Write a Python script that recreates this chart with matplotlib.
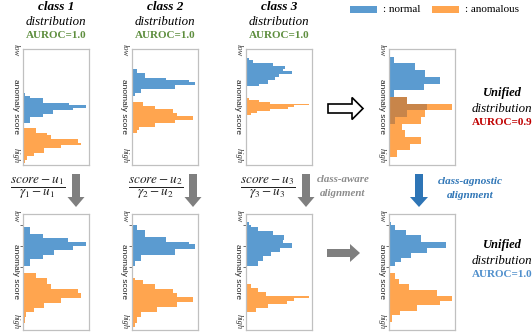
import numpy as np
import matplotlib
matplotlib.use('Agg')
import matplotlib.pyplot as plt
from matplotlib.patches import FancyArrow, Rectangle

plt.rcParams['mathtext.fontset'] = 'stix'
SERIF = 'Liberation Serif'
SANS = 'Liberation Sans'

BLUE = '#5b9bd0'
ORANGE = '#ffa54f'
BROWN = '#c8854a'
GREEN = '#5e8e3e'
RED = '#c00000'
LBLUE = '#4f8fcc'
DBLUE = '#2e75b6'
GREY = '#7f7f7f'

# ---------------- data ----------------
class_names = ['class 1', 'class 2', 'class 3']
class_auroc = ['AUROC=1.0', 'AUROC=1.0', 'AUROC=1.0']
unified_auroc_raw = 'AUROC=0.9'
unified_auroc_aligned = 'AUROC=1.0'
formulas = [r'$\dfrac{score-u_1}{\gamma_1-u_1}$',
            r'$\dfrac{score-u_2}{\gamma_2-u_2}$',
            r'$\dfrac{score-u_3}{\gamma_3-u_3}$']

# anomaly-score axis: 0 = low (top), 100 = high (bottom); counts in % of panel width
c1_raw_normal_edges = [38.0, 40.9, 42.9, 46.7, 48.7, 51.0, 53.3, 56.2, 59.1, 64.6]
c1_raw_normal_counts = [3, 11, 30, 70, 96, 75, 46, 31, 11]
c1_raw_anom_edges = [68.3, 72.6, 74.6, 78.4, 81.3, 83.6, 86.2, 89.9, 92.8, 95.7, 99.1]
c1_raw_anom_counts = [20, 36, 42, 83, 88, 57, 32, 16, 6, 3]

c2_raw_normal_edges = [17.9, 20.7, 25.1, 27.4, 28.8, 31.4, 35.2, 38.0, 40.9]
c2_raw_normal_counts = [7, 20, 52, 87, 96, 65, 13, 5]
c2_raw_anom_edges = [46.1, 49.6, 52.4, 55.3, 58.2, 61.9, 64.6, 67.7, 70.6, 73.2]
c2_raw_anom_counts = [16, 35, 62, 68, 92, 65, 35, 10, 7]

c3_raw_normal_edges = [7.8, 9.8, 12.7, 15.0, 17.3, 19.3, 22.2, 24.5, 27.4, 30.3, 32.3]
c3_raw_normal_counts = [4, 11, 41, 59, 56, 69, 50, 44, 34, 19]
c3_raw_anom_edges = [42.4, 44.1, 45.8, 47.8, 49.0, 50.4, 51.9, 53.9, 55.9, 57.6]
c3_raw_anom_counts = [5, 20, 36, 96, 73, 63, 36, 16, 8]

unified_raw_edges = [7.1, 12.9, 18.6, 24.4, 30.2, 35.9, 41.7, 47.5, 53.3, 59.0,
                     64.8, 70.6, 76.3, 82.1, 87.9, 93.6, 99.4]
unified_raw_normal_counts = [7, 40, 54, 77, 53, 8, 27, 58, 27, 9, 0, 0, 0, 0, 0, 0]
unified_raw_anom_counts = [0, 0, 0, 0, 0, 0, 27, 95, 54, 48, 19, 24, 48, 32, 12, 2]

c1_al_normal_edges = [9.2, 11.2, 17.0, 20.7, 24.2, 27.4, 31.4, 35.2, 38.9, 45.2]
c1_al_normal_counts = [2, 11, 31, 68, 96, 75, 47, 31, 11]
c1_al_anom_edges = [50.7, 55.6, 60.2, 64.6, 68.3, 72.6, 76.4, 80.7, 84.7, 89.0, 94.2]
c1_al_anom_counts = [20, 36, 42, 83, 88, 57, 32, 16, 5, 3]

c2_al_normal_edges = [9.2, 13.5, 20.2, 23.9, 25.9, 29.9, 35.7, 40.3, 44.7]
c2_al_normal_counts = [7, 20, 52, 87, 96, 65, 13, 5]
c2_al_anom_edges = [54.8, 57.3, 60.2, 64.3, 67.7, 71.8, 75.5, 79.8, 84.1, 89.0, 94.2, 97.7]
c2_al_anom_counts = [5, 16, 35, 62, 68, 92, 68, 38, 13, 7, 4]

c3_al_normal_edges = [6.9, 9.2, 11.5, 14.9, 18.3, 22.1, 24.9, 29.2, 32.7, 36.4, 40.7, 45.0]
c3_al_normal_counts = [4, 7, 18, 41, 58, 56, 70, 51, 38, 25, 18]
c3_al_anom_edges = [60.7, 64.2, 67.0, 70.5, 72.5, 75.1, 77.9, 80.8, 84.2]
c3_al_anom_counts = [7, 18, 31, 95, 73, 62, 33, 15]

unified_al_normal_edges = [6.9, 9.8, 13.5, 18.4, 24.2, 29.4, 33.7, 38.0, 41.5, 45.2]
unified_al_normal_counts = [3, 9, 25, 49, 86, 57, 34, 18, 9]
unified_al_anom_edges = [51.0, 55.9, 60.2, 65.4, 70.3, 74.9, 78.4, 83.3, 87.0, 92.8, 97.1]
unified_al_anom_counts = [9, 15, 30, 72, 95, 78, 42, 16, 5, 2]

aligned_marks = [9.5, 27.5, 45.3]

# ---------------- layout ----------------
W, H = 532, 334
fig = plt.figure(figsize=(W / 100, H / 100), dpi=100)
PW, PH = 66, 116
TOP_Y, BOT_Y = 48.5, 214
COL_X = [23, 132, 246, 389]

ov = fig.add_axes([0, 0, 1, 1])
ov.set_xlim(0, W)
ov.set_ylim(H, 0)
ov.axis('off')


def px_axes(l, t, w, h):
    return fig.add_axes([l / W, 1 - (t + h) / H, w / W, h / H])


def draw_panel(l, t, ne, nc, ae, ac, ticks=None, overlap=False):
    ax = px_axes(l, t, PW, PH)
    ne, ae = np.array(ne), np.array(ae)
    ax.barh(ne[:-1], nc, height=np.diff(ne), align='edge', color=BLUE, lw=0)
    ax.barh(ae[:-1], ac, height=np.diff(ae), align='edge', color=ORANGE, lw=0)
    if overlap:
        mn = np.minimum(np.array(nc), np.array(ac))
        ax.barh(ne[:-1], mn, height=np.diff(ne), align='edge', color=BROWN, lw=0)
    ax.set_xlim(0, 100)
    ax.set_ylim(100, 0)
    ax.set_xticks([])
    if ticks:
        ax.set_yticks(ticks)
        ax.set_yticklabels([])
        ax.tick_params(axis='y', length=2, width=0.6, color='#555555')
    else:
        ax.set_yticks([])
    for s in ax.spines.values():
        s.set_color('#c0c0c0')
        s.set_linewidth(0.9)
    # side labels
    ov.text(l - 8, t + PH / 2, 'anomaly score', rotation=-90, ha='center', va='center',
            family=SANS, fontsize=6, color='#222222')
    ov.text(l - 7.5, t - 4, 'low', rotation=-90, ha='center', va='top',
            family=SERIF, style='italic', fontsize=6, color='#333333')
    ov.text(l - 7.5, t + PH - 1, 'high', rotation=-90, ha='center', va='bottom',
            family=SERIF, style='italic', fontsize=6, color='#333333')
    return ax


top_sets = [(c1_raw_normal_edges, c1_raw_normal_counts, c1_raw_anom_edges, c1_raw_anom_counts),
            (c2_raw_normal_edges, c2_raw_normal_counts, c2_raw_anom_edges, c2_raw_anom_counts),
            (c3_raw_normal_edges, c3_raw_normal_counts, c3_raw_anom_edges, c3_raw_anom_counts)]
bot_sets = [(c1_al_normal_edges, c1_al_normal_counts, c1_al_anom_edges, c1_al_anom_counts),
            (c2_al_normal_edges, c2_al_normal_counts, c2_al_anom_edges, c2_al_anom_counts),
            (c3_al_normal_edges, c3_al_normal_counts, c3_al_anom_edges, c3_al_anom_counts)]

for i in range(3):
    draw_panel(COL_X[i], TOP_Y, *top_sets[i])
    draw_panel(COL_X[i], BOT_Y, *bot_sets[i], ticks=aligned_marks)
    cx = COL_X[i] + PW / 2
    ov.text(cx, 7, class_names[i], ha='center', va='center', family=SERIF,
            style='italic', weight='bold', fontsize=9.5)
    ov.text(cx, 22, 'distribution', ha='center', va='center', family=SERIF,
            style='italic', fontsize=9.3)
    ov.text(cx, 36, class_auroc[i], ha='center', va='center', family=SERIF,
            weight='bold', fontsize=8, color=GREEN)

draw_panel(COL_X[3], TOP_Y, unified_raw_edges, unified_raw_normal_counts,
           unified_raw_edges, unified_raw_anom_counts, overlap=True)
draw_panel(COL_X[3], BOT_Y, unified_al_normal_edges, unified_al_normal_counts,
           unified_al_anom_edges, unified_al_anom_counts, ticks=aligned_marks)

# legend
ov.add_patch(Rectangle((350, 6), 27, 7, color=BLUE, lw=0))
ov.text(383, 9.5, ': normal', ha='left', va='center', family=SERIF, fontsize=8)
ov.add_patch(Rectangle((432, 6), 27, 7, color=ORANGE, lw=0))
ov.text(465, 9.5, ': anomalous', ha='left', va='center', family=SERIF, fontsize=8)

# unified captions
for (yy, auroc, col) in [(93, unified_auroc_raw, RED), (245, unified_auroc_aligned, LBLUE)]:
    ov.text(502, yy, 'Unified', ha='center', va='center', family=SERIF,
            style='italic', weight='bold', fontsize=9)
    ov.text(502, yy + 15.5, 'distribution', ha='center', va='center', family=SERIF,
            style='italic', fontsize=9.3)
    ov.text(502, yy + 29.5, auroc, ha='center', va='center', family=SERIF,
            weight='bold', fontsize=8, color=col)

# formulas and down arrows
form_x = [38, 156, 268]
arrow_x = [76, 193, 306]
for i in range(3):
    ov.text(form_x[i], 188, formulas[i], ha='center', va='center', fontsize=9.5, color='#222222')
    ov.add_patch(FancyArrow(arrow_x[i], 174, 0, 33, width=8, head_width=17, head_length=10,
                            length_includes_head=True, color=GREY, lw=0))

ov.add_patch(FancyArrow(419, 174, 0, 33, width=8, head_width=18, head_length=10,
                        length_includes_head=True, color=DBLUE, lw=0))

ov.text(343, 179, 'class-aware', ha='center', va='center', family=SERIF,
        style='italic', weight='bold', fontsize=7.8, color='#8c8c8c')
ov.text(343, 193, 'alignment', ha='center', va='center', family=SERIF,
        style='italic', weight='bold', fontsize=7.8, color='#8c8c8c')
ov.text(470, 182, 'class-agnostic', ha='center', va='center', family=SERIF,
        style='italic', weight='bold', fontsize=8, color=DBLUE)
ov.text(470, 196, 'alignment', ha='center', va='center', family=SERIF,
        style='italic', weight='bold', fontsize=8, color=DBLUE)

# horizontal arrows
ov.add_patch(FancyArrow(328, 108.5, 35, 0, width=9, head_width=22, head_length=11,
                        length_includes_head=True, facecolor='white', edgecolor='black', lw=1.2))
ov.add_patch(FancyArrow(327, 253, 33, 0, width=8, head_width=18, head_length=10,
                        length_includes_head=True, color=GREY, lw=0))

fig.savefig('out.png', dpi=100)
